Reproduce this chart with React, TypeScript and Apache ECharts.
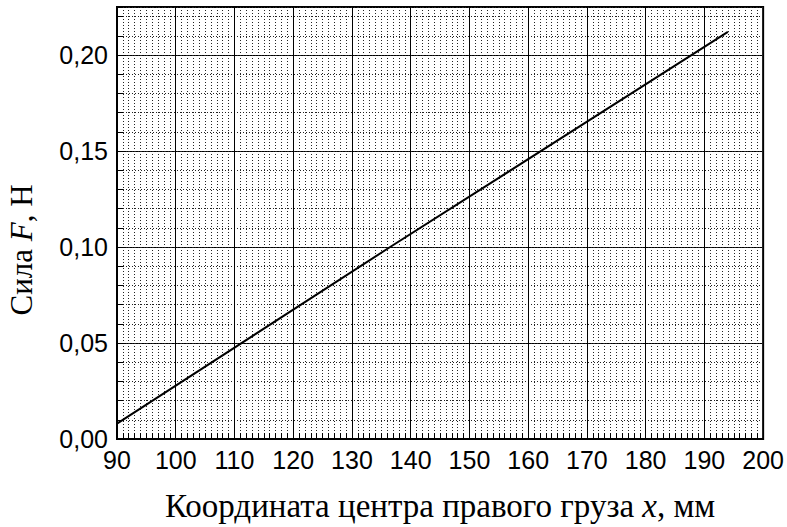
import React, { useEffect, useRef } from "react";
import * as echarts from "echarts";

const xValues: number[] = [90, 136.5, 194];
const yValues: number[] = [0.008, 0.1, 0.212];
const xTitleParts = ["Координата центра правого груза ", "x", ", мм"];
const yTitleParts = ["Сила ", "F", ", Н"];

const SANS = "'Liberation Sans', Arial, sans-serif";
const SERIF = "'Liberation Serif', 'Times New Roman', serif";

export default function App() {
  const ref = useRef<HTMLDivElement>(null);
  useEffect(() => {
    if (!ref.current) return;
    const chart = echarts.init(ref.current, undefined, { renderer: "svg" });
    const xRich = {
      a: { fontFamily: SERIF, fontSize: 33, color: "#000" },
      b: { fontFamily: SERIF, fontSize: 33, fontStyle: "italic", color: "#000" },
    };
    const yRich = {
      a: { fontFamily: SERIF, fontSize: 31, color: "#000" },
      b: { fontFamily: SERIF, fontSize: 31, fontStyle: "italic", color: "#000" },
    };
    const solid = { color: "#000", width: 1 };
    const dotted = { color: "#222", width: 1, type: [1, 2] as number[] };
    chart.setOption({
      animation: false,
      backgroundColor: "#fff",
      grid: {
        left: 117,
        right: 23,
        top: 7,
        bottom: 84,
        show: true,
        borderColor: "#000",
        borderWidth: 2,
        backgroundColor: "transparent",
      },
      xAxis: [
        {
          type: "value",
          min: 90,
          max: 200,
          interval: 10,
          position: "bottom",
          axisLine: { show: true, onZero: false, lineStyle: { color: "#000", width: 2 } },
          axisTick: { show: true, inside: true, length: 8, lineStyle: { color: "#000", width: 1 } },
          minorTick: { show: true, splitNumber: 10, length: 6, lineStyle: { color: "#000", width: 1 } },
          axisLabel: { color: "#000", fontFamily: SANS, fontSize: 25, margin: 8 },
          splitLine: { show: true, lineStyle: solid },
          minorSplitLine: { show: true, lineStyle: dotted },
          name: `{a|${xTitleParts[0]}}{b|${xTitleParts[1]}}{a|${xTitleParts[2]}}`,
          nameLocation: "middle",
          nameGap: 50,
          nameTextStyle: { rich: xRich },
        },
      ],
      yAxis: [
        {
          type: "value",
          min: 0,
          max: 0.225,
          interval: 0.05,
          position: "left",
          axisLine: { show: true, onZero: false, lineStyle: { color: "#000", width: 2 } },
          axisTick: { show: true, inside: true, length: 8, lineStyle: { color: "#000", width: 1 } },
          axisLabel: {
            color: "#000",
            fontFamily: SANS,
            fontSize: 25,
            margin: 9,
            showMaxLabel: false,
            formatter: (v: number) => {
              const k = Math.round(v / 0.05);
              if (Math.abs(k * 0.05 - v) > 1e-9) return "";
              return v.toFixed(2).replace(".", ",");
            },
          },
          splitLine: { show: true, lineStyle: solid },
        },
        {
          type: "value",
          min: 0,
          max: 0.225,
          interval: 0.01,
          position: "left",
          axisLine: { show: false },
          axisTick: { show: true, inside: true, length: 6, lineStyle: { color: "#000", width: 1 } },
          axisLabel: { show: false },
          splitLine: { show: true, lineStyle: dotted },
        },
      ],
      graphic: [
        {
          type: "text",
          x: 21,
          y: 250,
          rotation: Math.PI / 2,
          style: {
            text: `{a|${yTitleParts[0]}}{b|${yTitleParts[1]}}{a|${yTitleParts[2]}}`,
            rich: yRich,
            align: "center",
            verticalAlign: "middle",
            fill: "#000",
          },
        },
      ],
      series: [
        {
          type: "line",
          xAxisIndex: 0,
          yAxisIndex: 0,
          data: xValues.map((x, i) => [x, yValues[i]]),
          showSymbol: false,
          symbol: "none",
          lineStyle: { color: "#000", width: 2 },
          z: 5,
        },
      ],
    });
    return () => chart.dispose();
  }, []);
  return (
    <div
      ref={ref}
      style={{ position: "fixed", left: 0, top: 0, width: 787, height: 527, background: "#fff" }}
    />
  );
}
